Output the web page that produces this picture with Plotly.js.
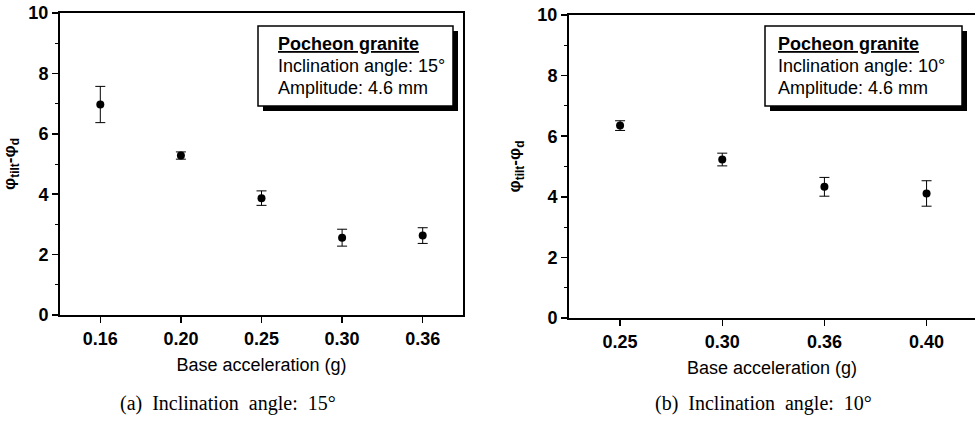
<!DOCTYPE html>
<html>
<head>
<meta charset="utf-8">
<script src="https://cdn.plot.ly/plotly-3.0.1.min.js"></script>
<style>
  html, body { margin: 0; padding: 0; background: #fff; }
  #chart { width: 975px; height: 422px; }
</style>
</head>
<body>
<div id="chart"></div>
<script>
// (a) inclination angle 15 degrees
const accelA = ['0.16', '0.20', '0.25', '0.30', '0.36'];
const phiA   = [6.97, 5.28, 3.87, 2.56, 2.63];
const errA   = [0.60, 0.12, 0.24, 0.28, 0.26];

// (b) inclination angle 10 degrees
const accelB = ['0.25', '0.30', '0.36', '0.40'];
const phiB   = [6.35, 5.23, 4.33, 4.11];
const errB   = [0.16, 0.21, 0.31, 0.42];

const yTicks = [0, 2, 4, 6, 8, 10];

const W = 975, H = 422;
const px = v => v / W;          // pixel x -> paper x
const py = v => 1 - v / H;      // pixel y -> paper y

const sans = 'Liberation Sans, Arial, sans-serif';
const serif = 'Liberation Serif, Times New Roman, serif';

function pointTrace(x, y, err, xa, ya) {
  return {
    type: 'scatter', mode: 'markers',
    x: x, y: y, xaxis: xa, yaxis: ya,
    marker: { color: '#000', size: 8, symbol: 'circle' },
    error_y: { type: 'data', array: err, visible: true, color: '#000', thickness: 1, width: 5 },
    showlegend: false, hoverinfo: 'x+y'
  };
}

function xAxis(domain, range, anchor) {
  return {
    domain: domain, range: range, anchor: anchor, type: 'category',
    showline: true, linecolor: '#000', linewidth: 2, mirror: true,
    ticks: 'outside', ticklen: 6, tickwidth: 1.5, tickcolor: '#000',
    showgrid: false, zeroline: false,
    tickfont: { family: sans, size: 18, color: '#000', weight: 'bold' },
    title: { text: 'Base acceleration (g)', standoff: 11,
             font: { family: sans, size: 18, color: '#000' } }
  };
}

function yAxis(domain, anchor) {
  return {
    domain: domain, range: [0, 10], anchor: anchor,
    tickmode: 'array', tickvals: yTicks, ticktext: yTicks.map(String),
    showline: true, linecolor: '#000', linewidth: 2, mirror: true,
    ticks: 'outside', ticklen: 6, tickwidth: 1.5, tickcolor: '#000',
    minor: { tickmode: 'array', tickvals: [1, 3, 5, 7, 9], ticks: 'outside', ticklen: 3, tickwidth: 1, tickcolor: '#000' },
    showgrid: false, zeroline: false,
    tickfont: { family: sans, size: 18, color: '#000', weight: 'bold' },
    title: { text: '\u03c6<sub>tilt</sub>-\u03c6<sub>d</sub>', standoff: 12,
             font: { family: sans, size: 17, color: '#000', weight: 'bold' } }
  };
}

// info box: shadow rectangle, bordered white box, three text lines
function infoBox(x0, x1, y0, y1, textX, angle) {
  const shapes = [
    { type: 'rect', xref: 'paper', yref: 'paper', layer: 'above',
      x0: px(x0 + 5), x1: px(x1 + 5), y0: py(y1 + 5), y1: py(y0 + 5),
      fillcolor: '#000', line: { width: 0 } },
    { type: 'rect', xref: 'paper', yref: 'paper', layer: 'above',
      x0: px(x0), x1: px(x1), y0: py(y1), y1: py(y0),
      fillcolor: '#fff', line: { color: '#000', width: 1.5 } }
  ];
  const lines = ['<b><u>Pocheon granite</u></b>',
                 'Inclination angle: ' + angle + '\u00b0',
                 'Amplitude: 4.6 mm'];
  const ys = [44, 66, 88];
  const anns = lines.map((t, i) => ({
    xref: 'paper', yref: 'paper', x: px(textX), y: py(ys[i]),
    xanchor: 'left', yanchor: 'middle', showarrow: false, text: t,
    font: { family: sans, size: 18, color: '#000' }
  }));
  return { shapes, anns };
}

const boxA = infoBox(258, 453, 26, 106, 276, '15');
const boxB = infoBox(765, 962, 26, 106, 776, '10');

const captions = [
  { text: '(a)\u00a0 Inclination\u00a0 angle:\u00a0 15\u00b0', x: 228 },
  { text: '(b)\u00a0 Inclination\u00a0 angle:\u00a0 10\u00b0', x: 763 }
].map(c => ({
  xref: 'paper', yref: 'paper', x: px(c.x), y: py(403),
  xanchor: 'center', yanchor: 'middle', showarrow: false, text: c.text,
  font: { family: serif, size: 20, color: '#000' }
}));

const layout = {
  width: W, height: H,
  margin: { l: 0, r: 0, t: 0, b: 0 },
  paper_bgcolor: '#fff', plot_bgcolor: '#fff',
  showlegend: false,
  xaxis:  xAxis([px(60), px(463)], [-0.5, 4.5], 'y'),
  yaxis:  yAxis([py(315), py(13)], 'x'),
  xaxis2: xAxis([px(569), 1], [-0.5, 3.474], 'y2'),
  yaxis2: yAxis([py(318), py(15)], 'x2'),
  shapes: [...boxA.shapes, ...boxB.shapes],
  annotations: [...boxA.anns, ...boxB.anns, ...captions]
};

const data = [
  pointTrace(accelA, phiA, errA, 'x', 'y'),
  pointTrace(accelB, phiB, errB, 'x2', 'y2')
];

Plotly.newPlot('chart', data, layout, { staticPlot: true, displayModeBar: false });
</script>
</body>
</html>
